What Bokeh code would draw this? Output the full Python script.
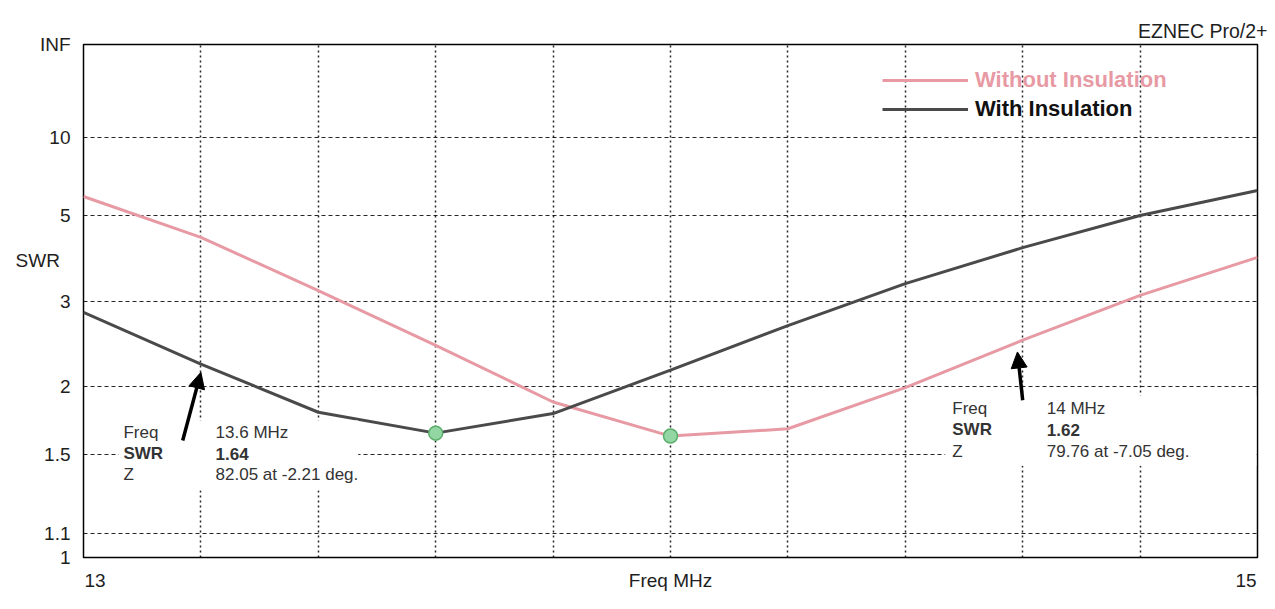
import math
from bokeh.plotting import figure
from bokeh.models import (FixedTicker, Label, Legend, LegendItem, BoxAnnotation, Arrow,
                          NormalHead, Range1d, CustomJSTickFormatter)
from bokeh.embed import file_html
from bokeh.resources import INLINE

# ---------------- data ----------------
freq_mhz = [13.0, 13.2, 13.4, 13.6, 13.8, 14.0, 14.2, 14.4, 14.6, 14.8, 15.0]
swr_without = [5.75, 4.32, 3.17, 2.41, 1.87, 1.62, 1.67, 1.99, 2.47, 3.09, 3.82]
swr_with = [2.83, 2.21, 1.79, 1.64, 1.78, 2.15, 2.65, 3.29, 4.05, 5.00, 6.03]
series_names = ["Without Insulation", "With Insulation"]

y_tick_swr = [1.0, 1.1, 1.5, 2.0, 3.0, 5.0, 10.0, math.inf]
y_tick_labels = ["1", "1.1", "1.5", "2", "3", "5", "10", "INF"]
y_grid_swr = [1.1, 1.5, 2.0, 3.0, 5.0, 10.0]
x_grid_mhz = [13.2, 13.4, 13.6, 13.8, 14.0, 14.2, 14.4, 14.6, 14.8]
x_tick_mhz = [13.0, 14.0, 15.0]
x_tick_labels = ["13", "Freq MHz", "15"]
y_title = "SWR"
program_title = "EZNEC Pro/2+"

marker_freq = [13.6, 14.0]
marker_swr = [1.64, 1.62]
marker_z = ["82.05 at -2.21 deg.", "79.76 at -7.05 deg."]


def gamma(s):
    """EZNEC SWR scale: linear in reflection coefficient."""
    return 1.0 if math.isinf(s) else (s - 1.0) / (s + 1.0)


PINK = "#e79aa3"
DARK = "#4a4a4a"
FONT = "Liberation Sans"
TXT = "#333333"
AX = "#1e1e1e"

# ---------------- figure ----------------
p = figure(width=1270, height=600, output_backend="svg", toolbar_location=None,
           x_range=Range1d(13.0, 15.0), y_range=Range1d(0.0, 1.0),
           min_border_left=83, min_border_right=13, min_border_top=44, min_border_bottom=43,
           background_fill_color="white", border_fill_color="white")
p.outline_line_color = "black"
p.outline_line_width = 1.5

p.title.text = program_title
p.title.align = "right"
p.title.offset = -10
p.title.standoff = 5
p.title.text_font = FONT
p.title.text_font_size = "19.5px"
p.title.text_font_style = "normal"
p.title.text_color = AX

# x axis: end labels aligned to frame edges, title in the middle
half_w = 11.5 / 587.0  # half label width in MHz units (layout offset)
xt = [x_tick_mhz[0] + half_w, x_tick_mhz[1], x_tick_mhz[2] - half_w]
p.xaxis.ticker = FixedTicker(ticks=xt)
p.xaxis.formatter = CustomJSTickFormatter(args=dict(tv=xt, tl=x_tick_labels), code="""
    for (let i = 0; i < tv.length; i++) { if (Math.abs(tv[i] - tick) < 1e-9) return tl[i]; }
    return '';
""")
p.xaxis.axis_line_color = None
p.xaxis.major_tick_line_color = None
p.xaxis.minor_tick_line_color = None
p.xaxis.major_tick_out = 0
p.xaxis.major_label_standoff = 12
p.xaxis.major_label_text_font = FONT
p.xaxis.major_label_text_font_size = "19px"
p.xaxis.major_label_text_color = AX

# y axis in reflection-coefficient space with SWR labels
yt = [gamma(s) for s in y_tick_swr] + [0.579]
yl = y_tick_labels + [y_title + "\u00a0\u00a0"]
p.yaxis.ticker = FixedTicker(ticks=yt)
p.yaxis.formatter = CustomJSTickFormatter(args=dict(tv=yt, tl=yl), code="""
    for (let i = 0; i < tv.length; i++) { if (Math.abs(tv[i] - tick) < 1e-9) return tl[i]; }
    return '';
""")
p.yaxis.axis_line_color = None
p.yaxis.major_tick_line_color = None
p.yaxis.minor_tick_line_color = None
p.yaxis.major_tick_out = 0
p.yaxis.major_label_standoff = 13
p.yaxis.major_label_text_font = FONT
p.yaxis.major_label_text_font_size = "19px"
p.yaxis.major_label_text_color = AX

p.ygrid.ticker = FixedTicker(ticks=[gamma(s) for s in y_grid_swr])
p.ygrid.grid_line_color = "black"
p.ygrid.grid_line_dash = "4 3"
p.ygrid.grid_line_width = 1.2
p.ygrid.grid_line_alpha = 0.85
p.xgrid.ticker = FixedTicker(ticks=x_grid_mhz)
p.xgrid.grid_line_color = "black"
p.xgrid.grid_line_dash = "2 3"
p.xgrid.grid_line_width = 1.5
p.xgrid.grid_line_alpha = 0.85

# annotation boxes (white, hide grid)
p.add_layout(BoxAnnotation(left=13.060, right=13.468, top=0.267, bottom=0.131,
                           fill_color="white", fill_alpha=1, line_alpha=0))
p.add_layout(BoxAnnotation(left=14.468, right=14.998, top=0.316, bottom=0.179,
                           fill_color="white", fill_alpha=1, line_alpha=0))

# curves
r_without = p.line(freq_mhz, [gamma(s) for s in swr_without], line_color=PINK, line_width=3)
r_with = p.line(freq_mhz, [gamma(s) for s in swr_with], line_color=DARK, line_width=3)

# markers at the readouts
p.scatter(marker_freq, [gamma(s) for s in marker_swr], size=14, marker="circle",
          fill_color="#93d6a3", line_color="#5aae6c", line_width=1.5)

# arrows pointing to curves
xe = freq_mhz[1]
ye = gamma(swr_with[1]) - 0.016
p.add_layout(Arrow(end=NormalHead(size=16, fill_color="black", line_color="black"),
                   x_start=xe - 0.031, y_start=ye - 0.133, x_end=xe, y_end=ye,
                   line_color="black", line_width=3.5))
xe2 = freq_mhz[8] - 0.009
ye2 = gamma(swr_without[8]) - 0.023
p.add_layout(Arrow(end=NormalHead(size=16, fill_color="black", line_color="black"),
                   x_start=xe2 + 0.009, y_start=ye2 - 0.094, x_end=xe2, y_end=ye2,
                   line_color="black", line_width=3.5))

# readout texts
boxes = [dict(c1=13.068, c2=13.225, rows=[0.2437, 0.2027, 0.1618]),
         dict(c1=14.480, c2=14.641, rows=[0.2904, 0.2495, 0.2066])]
for i, b in enumerate(boxes):
    keys = ["Freq", "SWR", "Z"]
    vals = [f"{marker_freq[i]:g} MHz", f"{marker_swr[i]:.2f}", marker_z[i]]
    for k, (kk, vv) in enumerate(zip(keys, vals)):
        style = "bold" if kk == "SWR" else "normal"
        for cx, t in ((b["c1"], kk), (b["c2"], vv)):
            p.add_layout(Label(x=cx, y=b["rows"][k], text=t, text_font=FONT,
                               text_font_size="17px", text_color=TXT,
                               text_font_style=style, text_baseline="middle",
                               text_align="left"))

# legends
for r, name, col, loc in ((r_without, series_names[0], PINK, (799, 464)),
                          (r_with, series_names[1], "#111111", (799, 435))):
    lg = Legend(items=[LegendItem(label=name, renderers=[r])], location=loc,
                glyph_width=86, glyph_height=20, label_height=20, label_standoff=7,
                padding=0, margin=0, spacing=0, border_line_alpha=0, background_fill_alpha=0,
                label_text_font=FONT, label_text_font_size="22px", label_text_font_style="bold",
                label_text_color=col)
    p.add_layout(lg, "center")

open("out.html", "w").write(file_html(p, INLINE))
